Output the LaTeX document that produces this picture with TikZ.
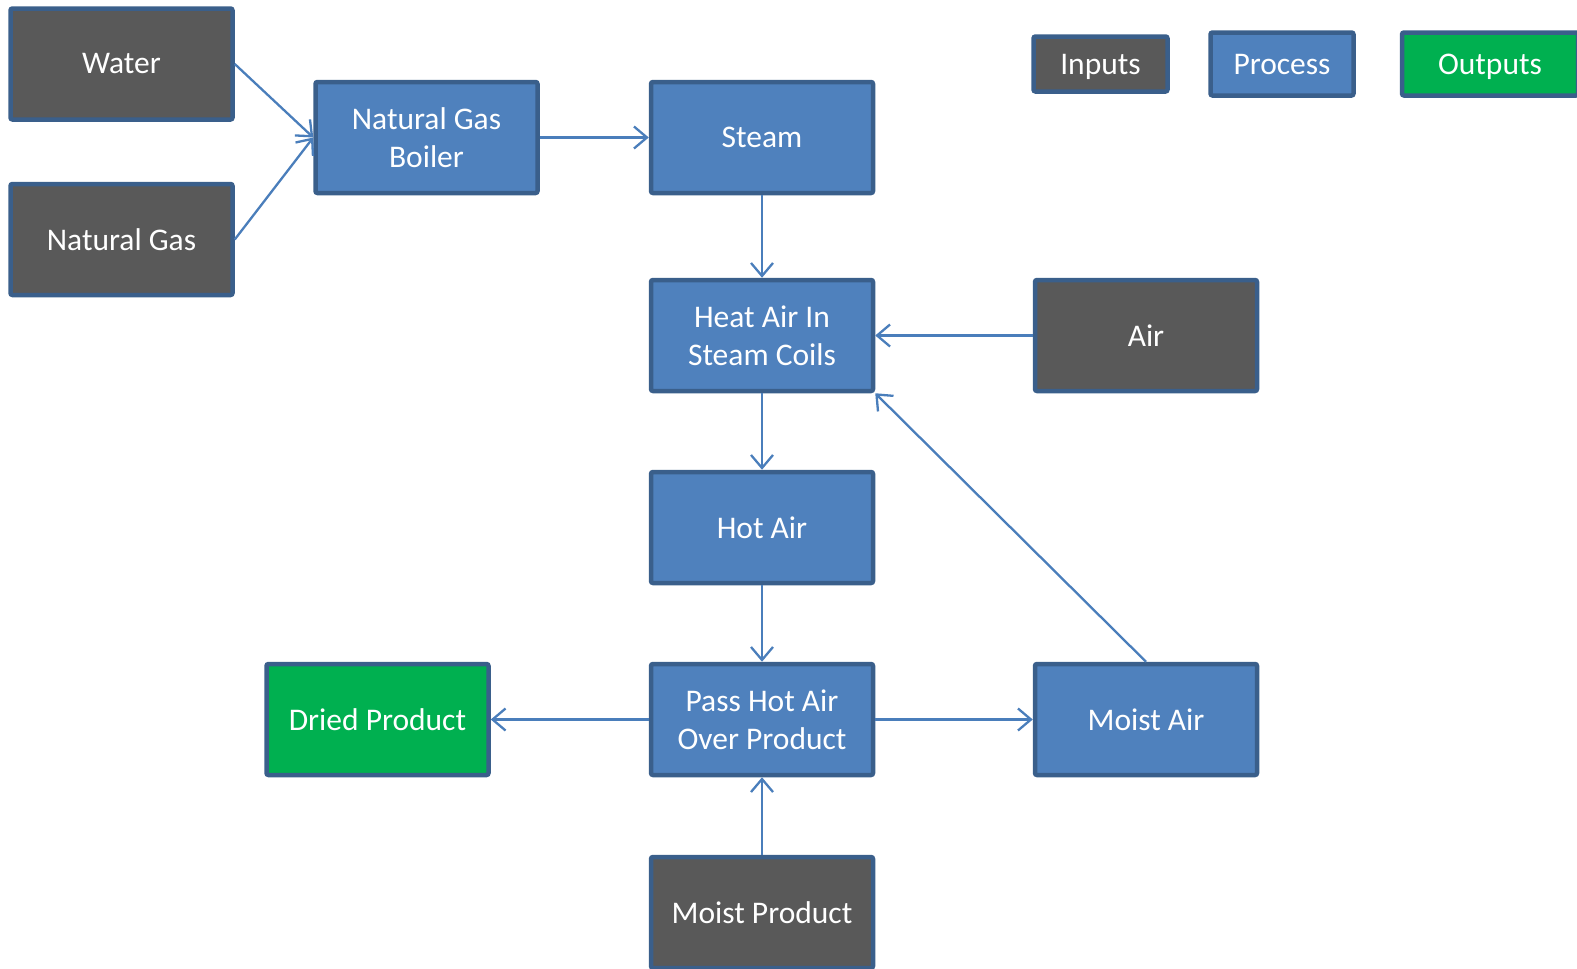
\documentclass[tikz,border=0pt]{standalone}
\usepackage{fontspec}
\setmainfont{Carlito}
\usetikzlibrary{arrows.meta}
\definecolor{inp}{HTML}{595959}
\definecolor{proc}{HTML}{4F81BD}
\definecolor{outp}{HTML}{00B050}
\definecolor{bord}{HTML}{3A5F8B}
\definecolor{conn}{HTML}{4A7EBB}
\begin{document}
\begin{tikzpicture}[x=1pt,y=-1pt,
  box/.style={draw=bord, line width=4.5pt, rounded corners=2pt, text=white, align=center,
    font=\fontsize{31.5}{38}\selectfont, inner sep=0pt, minimum width=222pt, minimum height=111pt},
  inbox/.style={box, fill=inp},
  prbox/.style={box, fill=proc},
  outbox/.style={box, fill=outp},
  legend/.style={text height=25pt, text depth=4pt},
  conn/.style={draw=conn, line width=2.3pt, -{Straight Barb[length=13pt,width=22pt]}}]
\useasboundingbox (0,0) rectangle (1577,969);
% legend
\node[inbox, legend, minimum width=134pt, minimum height=55pt] (lin) at (1100.5,64) {Inputs};
\node[prbox, legend, minimum width=143pt, minimum height=63pt] (lpr) at (1282,64) {Process};
\node[outbox, legend, minimum width=176pt, minimum height=63pt] (lout) at (1490,64) {Outputs};
% nodes
\node[inbox] (water) at (121.5,64) {Water};
\node[inbox] (gas) at (121.5,239.5) {Natural Gas};
\node[prbox] (boiler) at (426.5,137.5) {Natural Gas\\Boiler};
\node[prbox] (steam) at (762,137.5) {Steam};
\node[prbox] (heat) at (762,335.5) {Heat Air In\\Steam Coils};
\node[inbox] (air) at (1146,335.5) {Air};
\node[prbox] (hot) at (762,527.5) {Hot Air};
\node[prbox] (pass) at (762,719.5) {Pass Hot Air\\Over Product};
\node[outbox] (dried) at (377.5,719.5) {Dried Product};
\node[prbox] (moist) at (1146,719.5) {Moist Air};
\node[inbox] (mprod) at (762,912.5) {Moist Product};
% connectors
\draw[conn] (water.east) -- (boiler.west);
\draw[conn] (gas.east) -- (boiler.west);
\draw[conn] (boiler.east) -- (steam.west);
\draw[conn] (steam.south) -- (heat.north);
\draw[conn] (air.west) -- (heat.east);
\draw[conn] (heat.south) -- (hot.north);
\draw[conn] (hot.south) -- (pass.north);
\draw[conn] (pass.west) -- (dried.east);
\draw[conn] (pass.east) -- (moist.west);
\draw[conn] (mprod.north) -- (pass.south);
\draw[conn] (moist.north) -- (heat.south east);
\end{tikzpicture}
\end{document}
